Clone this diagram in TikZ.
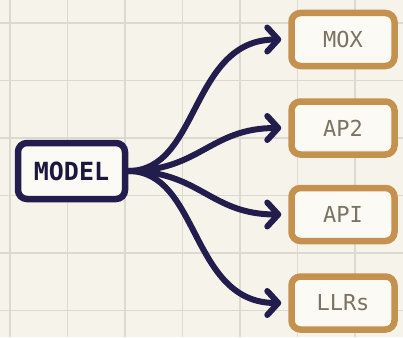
\documentclass[tikz,border=0pt]{standalone}
\usepackage{fontspec}
\setmonofont{DejaVu Sans Mono}
\usetikzlibrary{arrows.meta}
\definecolor{bg}{HTML}{F6F4EA}
\definecolor{gridc}{HTML}{DCDAD0}
\definecolor{navy}{HTML}{221D4C}
\definecolor{gold}{HTML}{C4914E}
\definecolor{boxfill}{HTML}{FBFAF4}
\definecolor{goldtext}{HTML}{7A7262}
\tikzset{
  modelbox/.style={draw=navy, line width=6.5pt, rounded corners=9pt, fill=boxfill,
    minimum width=107pt, minimum height=56pt, inner sep=0pt,
    font=\ttfamily\bfseries\fontsize{25}{25}\selectfont, text=navy!80!black},
  goldbox/.style={draw=gold, line width=6.5pt, rounded corners=9pt, fill=boxfill,
    minimum width=103pt, minimum height=53pt, inner sep=0pt,
    font=\ttfamily\fontsize{22}{22}\selectfont, text=goldtext},
  arr/.style={draw=navy, line width=6pt, line cap=round, line join=round,
    -{Straight Barb[length=11pt,width=24pt,line cap=round,line join=round]}, shorten >=7pt}
}
\begin{document}
\begin{tikzpicture}[x=1pt,y=-1pt]
\fill[bg] (0,0) rectangle (403,337);
\useasboundingbox (0,0) rectangle (403,337);
\foreach \x in {10,67.5,125,182.5,240,297.5,355}
  \draw[gridc, line width=1.4pt] (\x,0) -- (\x,337);
\foreach \y in {23,80.5,138,195.5,253,310.5}
  \draw[gridc, line width=1.4pt] (0,\y) -- (403,\y);
\node[modelbox] (model) at (71.5,171) {MODEL};
\node[goldbox] (mox) at (343,39.5) {MOX};
\node[goldbox] (ap2) at (343,128) {AP2};
\node[goldbox] (api) at (343,214.5) {API};
\node[goldbox] (llrs) at (343,303) {LLRs};
\draw[arr] (model.east) .. controls (200,171) and (190,39.5) .. (mox.west);
\draw[arr] (model.east) .. controls (200,171) and (210,128) .. (ap2.west);
\draw[arr] (model.east) .. controls (200,171) and (210,214.5) .. (api.west);
\draw[arr] (model.east) .. controls (200,171) and (190,303) .. (llrs.west);
\end{tikzpicture}
\end{document}
